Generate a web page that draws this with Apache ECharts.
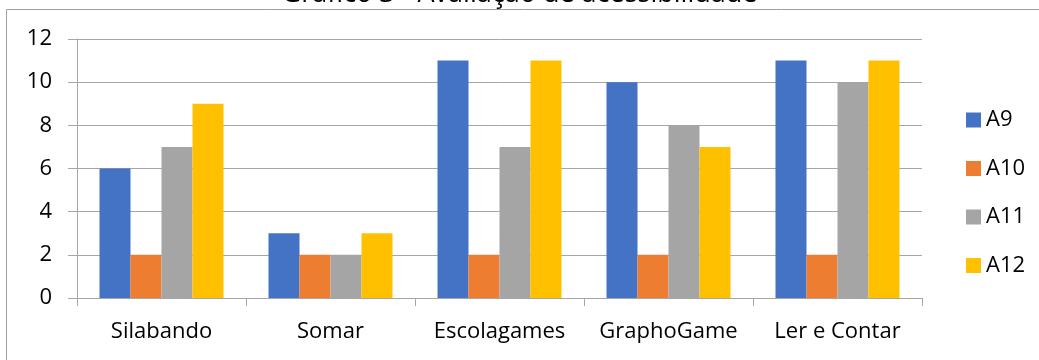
<!DOCTYPE html>
<html>
<head>
	<meta charset="utf-8">
	<title>Gráfico 3</title>
	<script src="https://cdn.jsdelivr.net/npm/echarts@6/dist/echarts.min.js"></script>
	<style>
		html, body { margin: 0; padding: 0; background: #fff; }
	</style>
</head>
<body>
	<div id="chart" style="width: 1039px; height: 360px;"></div>
	<script>
		var categories = ['Silabando', 'Somar', 'Escolagames', 'GraphoGame', 'Ler e Contar'];
		var a9 = [6, 3, 11, 10, 11];
		var a10 = [2, 2, 2, 2, 2];
		var a11 = [7, 2, 7, 8, 10];
		var a12 = [9, 3, 11, 7, 11];
		var seriesNames = ['A9', 'A10', 'A11', 'A12'];
		var colors = ['#4472C4', '#ED7D31', '#A5A5A5', '#FFC000'];

		var font = '"Open Sans", sans-serif';
		var chart = echarts.init(document.getElementById('chart'));

		function bar(name, data, color) {
			return {
				name: name,
				type: 'bar',
				data: data,
				barWidth: 31,
				barGap: '0%',
				itemStyle: { color: color },
				emphasis: { disabled: true }
			};
		}

		chart.setOption({
			animation: false,
			textStyle: { fontFamily: font },
			title: {
				text: 'Gráfico 3 - Avaliação de acessibilidade',
				left: 'center',
				top: -24,
				textStyle: { fontFamily: font, fontSize: 27, fontWeight: 'normal', color: '#000' }
			},
			graphic: [{
				type: 'rect',
				shape: { x: 6.5, y: 9.5, width: 1040, height: 360 },
				style: { fill: '#fff', stroke: '#a0a0a0', lineWidth: 1 },
				z: -1,
				silent: true
			}],
			legend: {
				orient: 'vertical',
				left: 961,
				top: 104,
				itemWidth: 15,
				itemHeight: 15,
				itemGap: 26.5,
				icon: 'rect',
				textStyle: { fontFamily: font, fontSize: 22, color: '#000', lineHeight: 22 },
				data: seriesNames
			},
			grid: { left: 77, right: 117, top: 39, bottom: 62, containLabel: false },
			xAxis: {
				type: 'category',
				data: categories,
				axisLine: { lineStyle: { color: '#a6a6a6' } },
				axisTick: { show: true, length: 8, alignWithLabel: false, lineStyle: { color: '#a6a6a6' } },
				axisLabel: { fontFamily: font, fontSize: 22, color: '#000', margin: 23, interval: 0 }
			},
			yAxis: {
				type: 'value',
				min: 0,
				max: 12,
				interval: 2,
				axisLine: { show: true, lineStyle: { color: '#a6a6a6' } },
				axisTick: { show: true, length: 9, lineStyle: { color: '#a6a6a6' } },
				splitLine: { lineStyle: { color: '#a6a6a6' } },
				axisLabel: { fontFamily: font, fontSize: 22, color: '#000', margin: 25 }
			},
			series: [
				bar(seriesNames[0], a9, colors[0]),
				bar(seriesNames[1], a10, colors[1]),
				bar(seriesNames[2], a11, colors[2]),
				bar(seriesNames[3], a12, colors[3])
			]
		});
	</script>
</body>
</html>
